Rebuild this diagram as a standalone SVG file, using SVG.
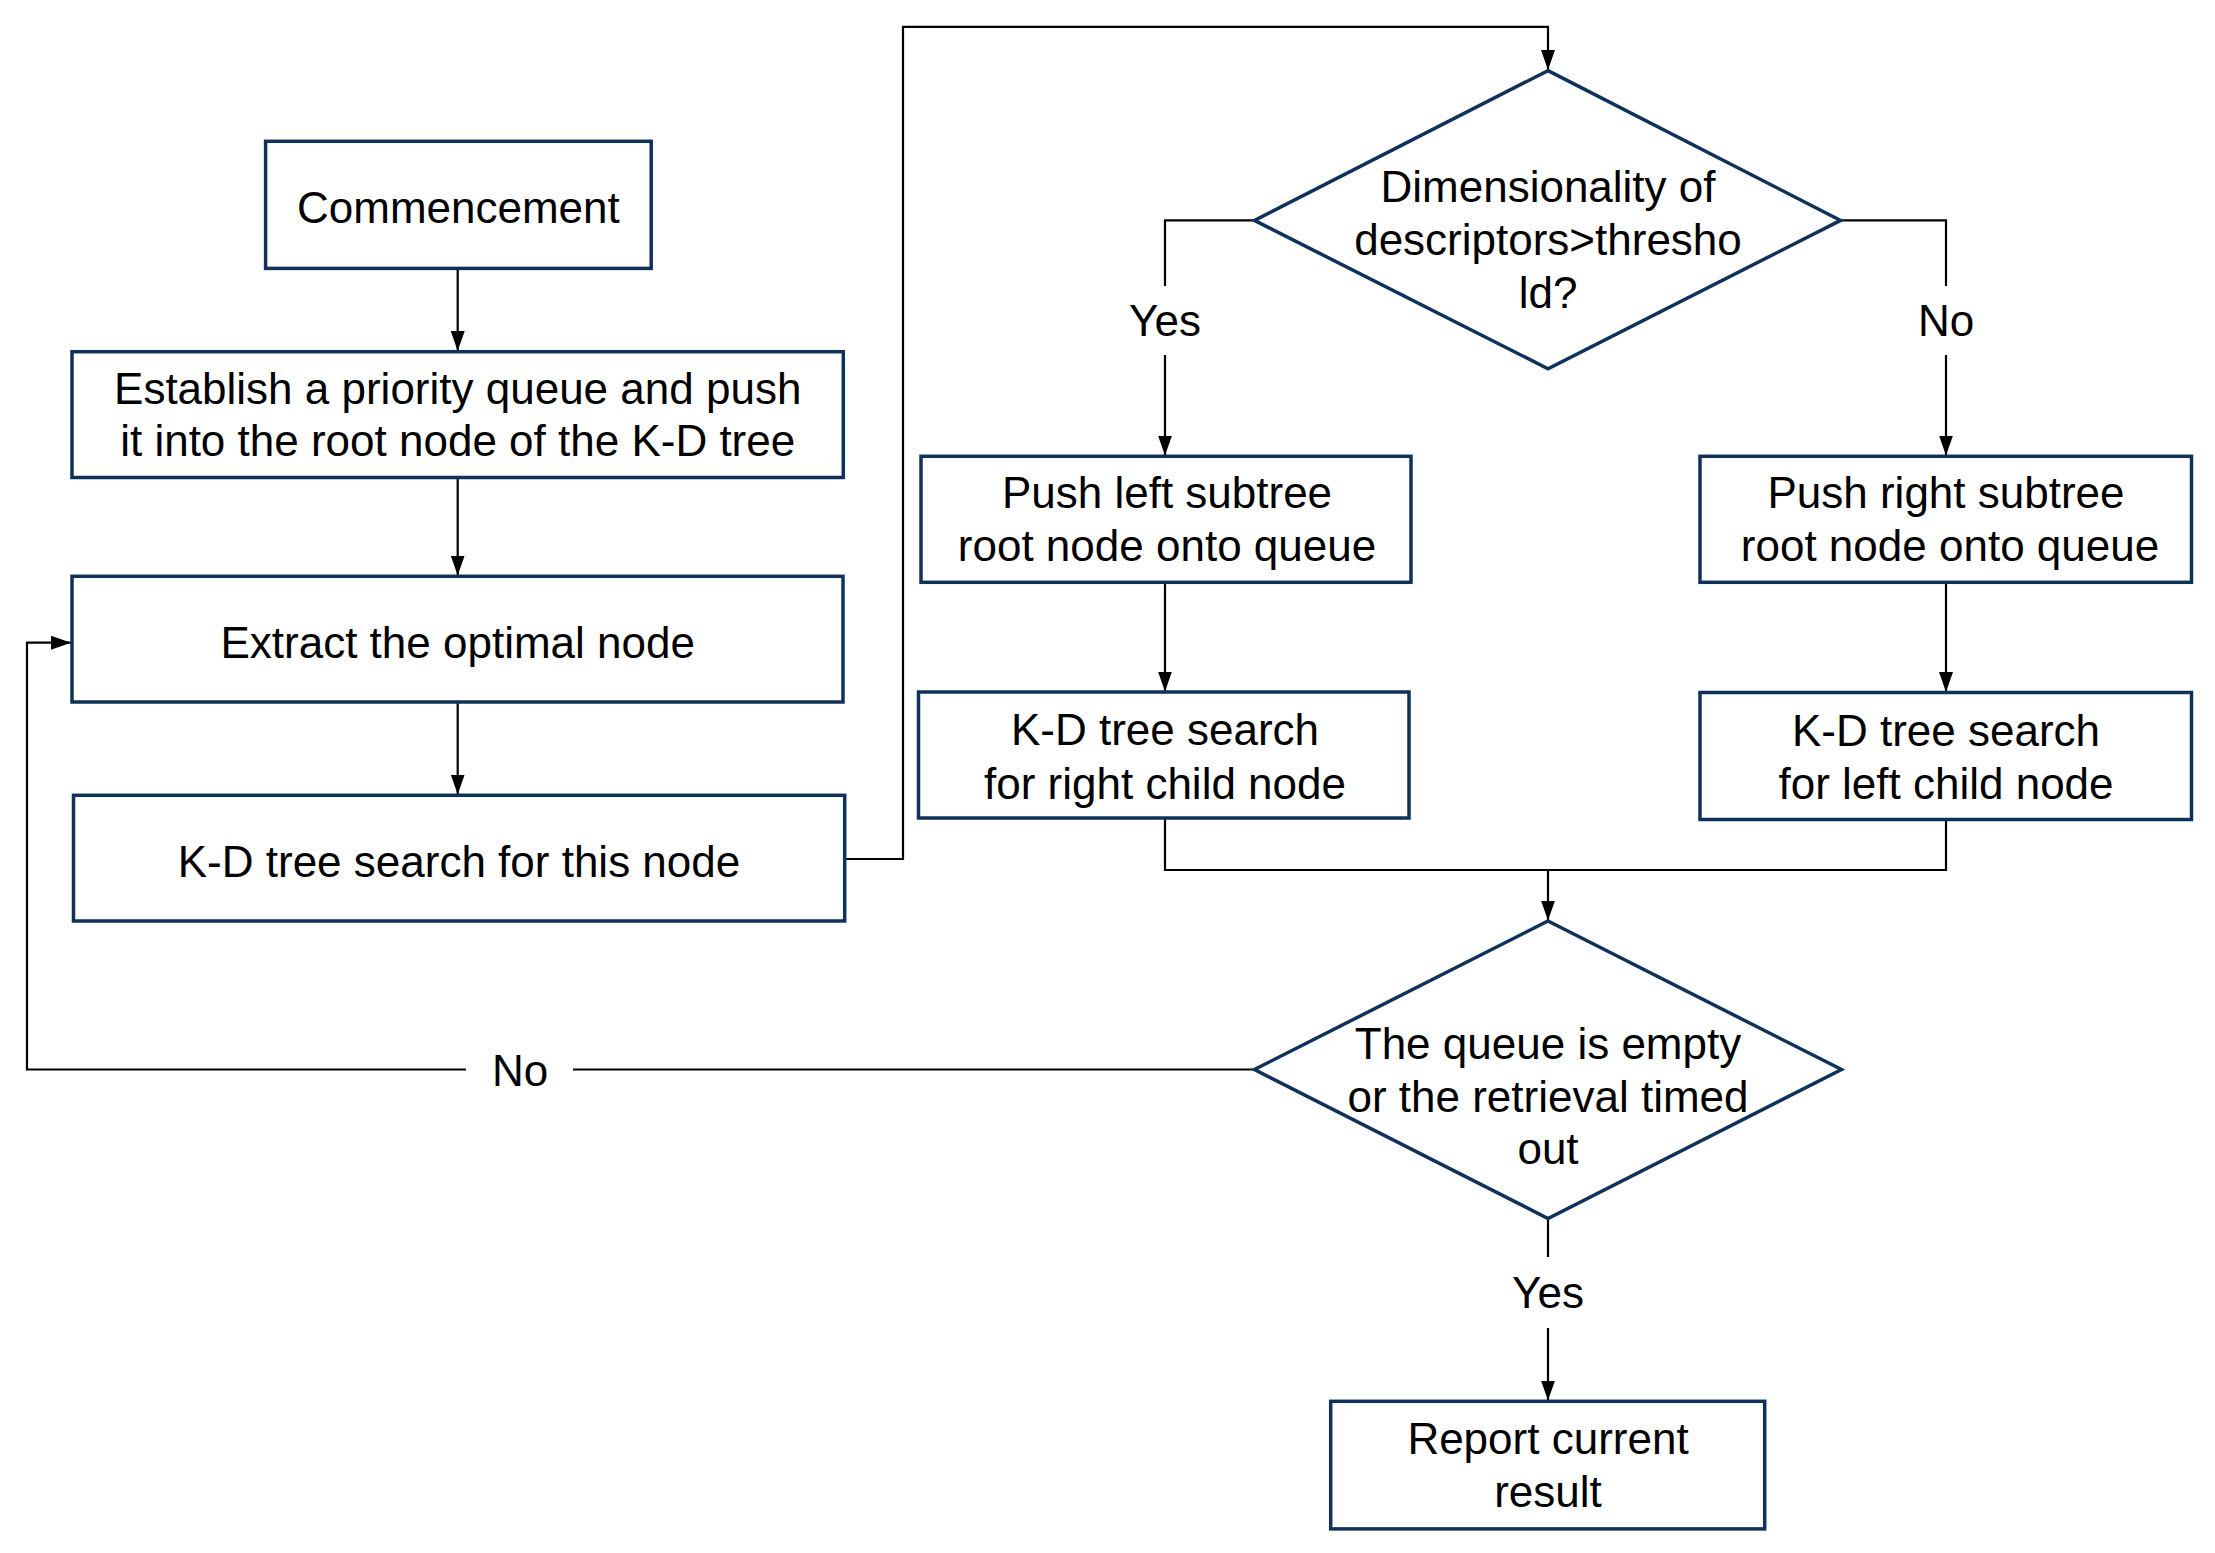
<svg xmlns="http://www.w3.org/2000/svg" width="2215" height="1553" viewBox="0 0 2215 1553">
<style>
.box{fill:#ffffff;stroke:#10325a;stroke-width:3.5}
.t{font-family:"Liberation Sans",Arial,sans-serif;font-size:44px;fill:#000;text-anchor:middle}
.c{fill:none;stroke:#000;stroke-width:2.2}
</style>
<defs>
<marker id="ah" markerUnits="userSpaceOnUse" markerWidth="20" markerHeight="14" viewBox="0 0 20 14" refX="20" refY="7" orient="auto">
<path d="M0,0 L20,7 L0,14 Z" fill="#000"/>
</marker>
</defs>
<rect width="2215" height="1553" fill="#fff"/>
<g id="connectors">
<path class="c" d="M457.7,268.4 V351" marker-end="url(#ah)"/>
<path class="c" d="M457.7,477.5 V575.5" marker-end="url(#ah)"/>
<path class="c" d="M457.7,702 V794.5" marker-end="url(#ah)"/>
<path class="c" d="M845,859 H903 V26.8 H1548 V70" marker-end="url(#ah)"/>
<path class="c" d="M1254.4,220.4 H1165 V286"/>
<path class="c" d="M1165,355 V455.5" marker-end="url(#ah)"/>
<path class="c" d="M1840.6,220.4 H1946 V286"/>
<path class="c" d="M1946,355 V455.5" marker-end="url(#ah)"/>
<path class="c" d="M1165,582.5 V691.5" marker-end="url(#ah)"/>
<path class="c" d="M1946,582.5 V692" marker-end="url(#ah)"/>
<path class="c" d="M1165,818 V870 H1946 V820"/>
<path class="c" d="M1548,870 V920.5" marker-end="url(#ah)"/>
<path class="c" d="M1548,1218 V1257"/>
<path class="c" d="M1548,1328 V1400.5" marker-end="url(#ah)"/>
<path class="c" d="M1254,1069.5 H573"/>
<path class="c" d="M466,1069.5 H27 V642.7 H71" marker-end="url(#ah)"/>
<text class="t" x="1165" y="336">Yes</text>
<text class="t" x="1946" y="336">No</text>
<text class="t" x="520" y="1086">No</text>
<text class="t" x="1548" y="1307.5">Yes</text>
</g>
<g id="commencement">
<rect class="box" x="265.6" y="141.3" width="385.6" height="127.1"/>
<text class="t" x="458.4" y="223">Commencement</text>
</g>
<g id="establish">
<rect class="box" x="72" y="351.7" width="771.3" height="125.8"/>
<text class="t" x="457.7" y="403.5">Establish a priority queue and push</text>
<text class="t" x="457.7" y="456">it into the root node of the K-D tree</text>
</g>
<g id="extract">
<rect class="box" x="72" y="576.3" width="771" height="125.7"/>
<text class="t" x="457.7" y="658">Extract the optimal node</text>
</g>
<g id="kd-search">
<rect class="box" x="73.5" y="795.3" width="771.2" height="125.7"/>
<text class="t" x="459" y="877">K-D tree search for this node</text>
</g>
<g id="decision-dim">
<polygon class="box" points="1548,70.6 1840.6,220.4 1548,368.7 1254.4,220.4"/>
<text class="t" x="1548" y="201.5">Dimensionality of</text>
<text class="t" x="1548" y="254.5">descriptors&gt;thresho</text>
<text class="t" x="1548" y="307.5">ld?</text>
</g>
<g id="push-left">
<rect class="box" x="921" y="456.3" width="490" height="126"/>
<text class="t" x="1167" y="508">Push left subtree</text>
<text class="t" x="1167" y="561">root node onto queue</text>
</g>
<g id="push-right">
<rect class="box" x="1700" y="456.3" width="491.5" height="126"/>
<text class="t" x="1946" y="508">Push right subtree</text>
<text class="t" x="1950" y="561">root node onto queue</text>
</g>
<g id="kd-right-child">
<rect class="box" x="918.5" y="692" width="490.5" height="126"/>
<text class="t" x="1165" y="745">K-D tree search</text>
<text class="t" x="1165" y="798.5">for right child node</text>
</g>
<g id="kd-left-child">
<rect class="box" x="1700" y="692.5" width="491.5" height="127"/>
<text class="t" x="1946" y="745.5">K-D tree search</text>
<text class="t" x="1946" y="799">for left child node</text>
</g>
<g id="decision-queue">
<polygon class="box" points="1548,921 1841.5,1069.5 1548,1218.5 1254.4,1069.5"/>
<text class="t" x="1548" y="1059">The queue is empty</text>
<text class="t" x="1548" y="1111.5">or the retrieval timed</text>
<text class="t" x="1548" y="1164">out</text>
</g>
<g id="report">
<rect class="box" x="1330.7" y="1401.3" width="434" height="127.6"/>
<text class="t" x="1548" y="1453.6">Report current</text>
<text class="t" x="1548" y="1507">result</text>
</g>
</svg>
